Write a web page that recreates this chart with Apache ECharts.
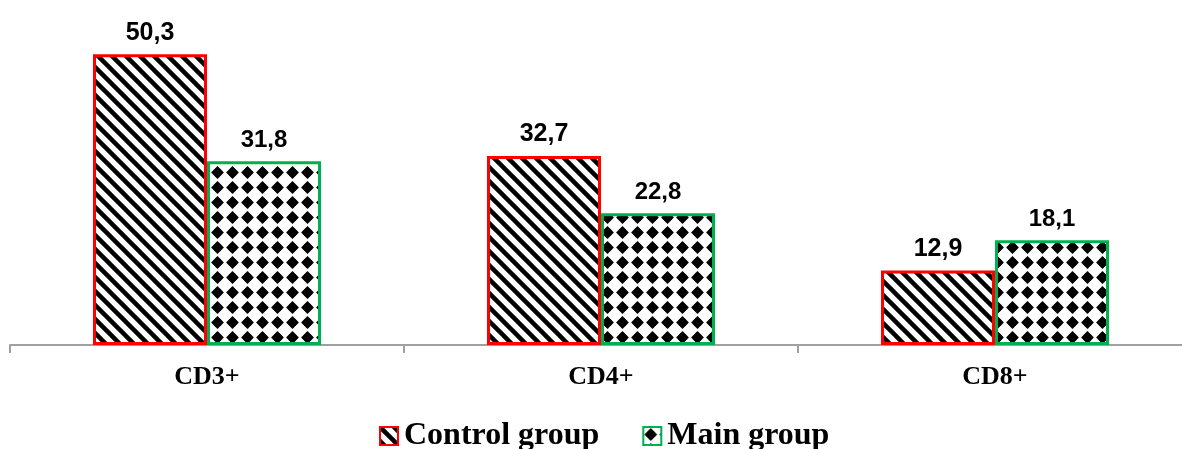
<!DOCTYPE html>
<html>
<head>
<meta charset="utf-8">
<script src="https://cdn.jsdelivr.net/npm/echarts@6/dist/echarts.min.js"></script>
<style>
  html, body { margin: 0; padding: 0; background: #fff; }
  #chart { width: 1182px; height: 449px; }
</style>
</head>
<body>
<div id="chart"></div>
<script>
const categories = ['CD3+', 'CD4+', 'CD8+'];
const controlGroup = [50.3, 32.7, 12.9];
const mainGroup = [31.8, 22.8, 18.1];
const seriesNames = ['Control group', 'Main group'];

function stripePattern() {
  const s = 14;
  const c = document.createElement('canvas');
  c.width = s; c.height = s;
  const ctx = c.getContext('2d');
  ctx.fillStyle = '#fff';
  ctx.fillRect(0, 0, s, s);
  ctx.strokeStyle = '#000';
  ctx.lineWidth = 4.5;
  for (const k of [-s, 0, s]) {
    ctx.beginPath();
    ctx.moveTo(k - 3, -3);
    ctx.lineTo(k + s + 3, s + 3);
    ctx.stroke();
  }
  return c;
}

function dotPattern() {
  const s = 15;
  const c = document.createElement('canvas');
  c.width = s; c.height = s;
  const ctx = c.getContext('2d');
  ctx.fillStyle = '#fff';
  ctx.fillRect(0, 0, s, s);
  ctx.fillStyle = '#000';
  const cx = s / 2, cy = s / 2;
  ctx.beginPath();
  ctx.arc(cx, cy, 4.4, 0, Math.PI * 2);
  ctx.fill();
  ctx.beginPath();
  ctx.moveTo(cx, cy - 6.4);
  ctx.lineTo(cx + 6.4, cy);
  ctx.lineTo(cx, cy + 6.4);
  ctx.lineTo(cx - 6.4, cy);
  ctx.closePath();
  ctx.fill();
  return c;
}

const fmt = p => String(p.value).replace('.', ',');

const chart = echarts.init(document.getElementById('chart'), null, { renderer: 'canvas' });
chart.setOption({
  animation: false,
  backgroundColor: '#fff',
  grid: { left: 10, width: 1182, top: 27, height: 318, containLabel: false, outerBoundsMode: 'none' },
  legend: {
    data: seriesNames,
    top: 415,
    left: 374,
    icon: 'rect',
    itemWidth: 18,
    itemHeight: 18,
    itemGap: 43,
    textStyle: {
      fontFamily: '"Liberation Serif", "Times New Roman", serif',
      fontWeight: 'bold',
      fontSize: 32,
      color: '#000',
      padding: [0, 0, 0, 1]
    }
  },
  xAxis: {
    type: 'category',
    data: categories,
    boundaryGap: true,
    axisLine: { lineStyle: { color: '#a0a0a0', width: 2 } },
    axisTick: { show: true, length: 8, lineStyle: { color: '#a0a0a0', width: 2 } },
    axisLabel: {
      margin: 19,
      fontFamily: '"Liberation Serif", "Times New Roman", serif',
      fontWeight: 'bold',
      fontSize: 26,
      color: '#000'
    }
  },
  yAxis: {
    type: 'value',
    min: 0,
    max: 55,
    show: false,
    splitLine: { show: false }
  },
  series: [
    {
      name: seriesNames[0],
      type: 'bar',
      data: controlGroup,
      barWidth: 114,
      barGap: '0%',
      itemStyle: {
        color: { image: stripePattern(), repeat: 'repeat' },
        borderColor: '#ff0000',
        borderWidth: 3
      },
      label: {
        show: true,
        position: 'top',
        distance: 9,
        formatter: fmt,
        fontFamily: '"Liberation Sans Narrow", "Arial Narrow", "Liberation Sans", sans-serif',
        fontWeight: 'bold',
        fontSize: 25,
        color: '#000'
      }
    },
    {
      name: seriesNames[1],
      type: 'bar',
      data: mainGroup,
      barWidth: 114,
      barGap: '0%',
      itemStyle: {
        color: { image: dotPattern(), repeat: 'repeat' },
        borderColor: '#00b050',
        borderWidth: 3
      },
      label: {
        show: true,
        position: 'top',
        distance: 9,
        formatter: fmt,
        fontFamily: '"Liberation Sans", Arial, sans-serif',
        fontWeight: 'bold',
        fontSize: 24,
        color: '#000'
      }
    }
  ]
});
</script>
</body>
</html>
